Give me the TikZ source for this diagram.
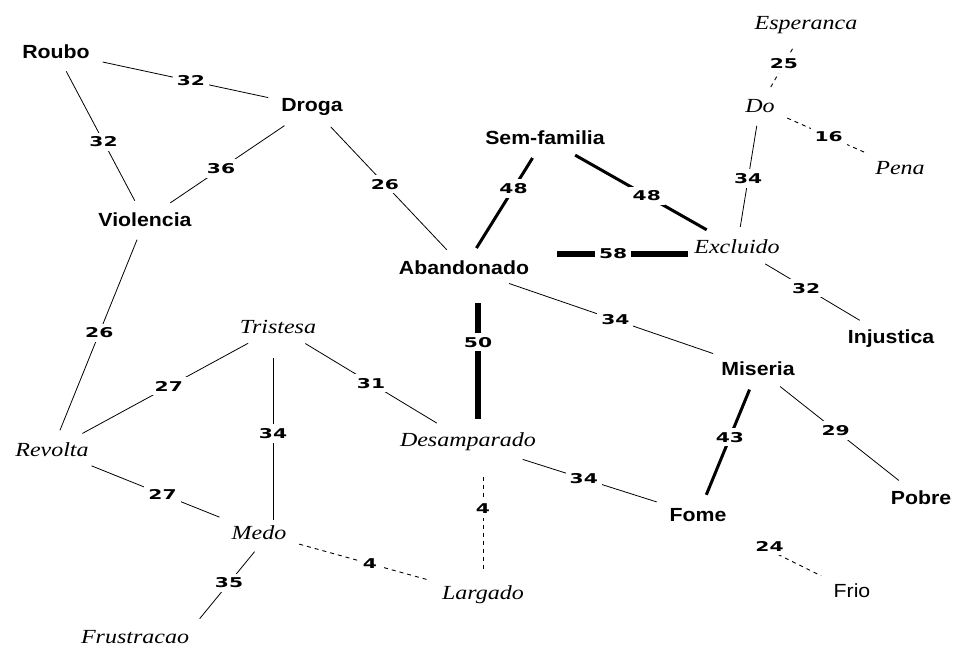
\documentclass[tikz,border=0pt]{standalone}
\usepackage{fontspec}
\setmainfont{Liberation Serif}
\newfontfamily\wordsans[FakeStretch=1.12]{Liberation Sans}
\newfontfamily\wordserif[FakeStretch=1.2]{Liberation Serif}
\newfontfamily\numsans[FakeStretch=1.5]{DejaVu Sans}

\begin{document}
\begin{tikzpicture}[
        x=1pt, y=-1pt,
        strong/.style={font=\wordsans\bfseries\fontsize{19}{22}\selectfont, inner sep=6pt},
        plain/.style={font=\wordsans\fontsize{19}{22}\selectfont, inner sep=6pt},
        weak/.style={font=\wordserif\itshape\fontsize{20}{22}\selectfont, inner sep=6pt},
        wt/.style={font=\numsans\bfseries\fontsize{13.5}{15}\selectfont, fill=white, inner sep=4pt},
        link/.style={line width=0.8pt, shorten <=7pt, shorten >=7pt},
        tie/.style={line width=3pt, shorten <=8pt, shorten >=8pt},
        bond/.style={line width=5.5pt},
        loose/.style={line width=0.9pt, dash pattern=on 4pt off 4pt, shorten <=7pt, shorten >=7pt}
    ]
        \useasboundingbox (0,0) rectangle (953,649);

        % Nodes
        \node (roubo) [strong] at (56,52) {Roubo};
        \node (droga) [strong] at (312,107) {Droga};
        \node (violencia) [strong] at (145,220) {Violencia};
        \node (semfamilia) [strong] at (545,138) {Sem-familia};
        \node (esperanca) [weak] at (806,25) {Esperanca};
        \node (do) [weak] at (760,106) {Do};
        \node (pena) [weak] at (900,168) {Pena};
        \node (excluido) [weak] at (737,247) {Excluido};
        \node (abandonado) [strong] at (464,268) {Abandonado};
        \node (injustica) [strong] at (891,339) {Injustica};
        \node (miseria) [strong] at (758,369) {Miseria};
        \node (tristesa) [weak] at (278,327) {Tristesa};
        \node (revolta) [weak] at (52,450) {Revolta};
        \node (desamparado) [weak] at (468,442) {Desamparado};
        \node (pobre) [strong] at (921,498) {Pobre};
        \node (fome) [strong] at (698,515) {Fome};
        \node (medo) [weak] at (259,533) {Medo};
        \node (largado) [weak] at (483,595) {Largado};
        \node (frio) [plain] at (852,591) {Frio};
        \node (frustracao) [weak] at (135,637) {Frustracao};

        \coordinate (abot) at ([xshift=14pt]abandonado.south);
        \coordinate (tbot) at ([xshift=-5pt]tristesa.south);

        % Paths
        \draw [link] (roubo) -- node[wt, pos=.53] {32} (droga);
        \draw [link] (roubo) -- node[wt, pos=.54] {32} (violencia);
        \draw [link] (droga) -- node[wt, pos=.55] {36} (violencia);
        \draw [link] (droga) -- node[wt, pos=.47] {26} (abandonado);
        \draw [tie] (semfamilia) -- node[wt, pos=.36] {48} (abandonado);
        \draw [tie] (semfamilia) -- node[wt, pos=.54] {48} (excluido);
        \draw [bond, shorten >=22pt] (excluido.base west) -- node[wt, pos=.49] {58} (excluido.base west -| abandonado.east);
        \draw [loose] (do) -- node[wt, pos=.55] {25} (esperanca);
        \draw [loose] (do) -- node[wt, pos=.53] {16} (pena);
        \draw [link] (do) -- node[wt, pos=.52] {34} (excluido);
        \draw [link] (excluido) -- node[wt, pos=.44] {32} (injustica);
        \draw [link] (abandonado) -- node[wt, pos=.52] {34} (miseria);
        \draw [bond, shorten <=22pt, shorten >=8pt] (abot) -- node[wt, pos=.42] {50} (abot |- desamparado.north);
        \draw [link] (violencia) -- node[wt, pos=.49] {26} (revolta);
        \draw [link] (tristesa) -- node[wt, pos=.48] {27} (revolta);
        \draw [link] (tristesa) -- node[wt, pos=.50] {31} (desamparado);
        \draw [link, shorten <=18pt, shorten >=0pt] (tbot) -- node[wt, pos=.52] {34} (tbot |- medo.north);
        \draw [link] (revolta) -- node[wt, pos=.55] {27} (medo);
        \draw [link] (medo.south) -- node[wt, pos=.47] {35} (frustracao.north east);
        \draw [loose] (medo) -- node[wt, pos=.54] {4} (largado);
        \draw [loose, shorten <=11pt, shorten >=17pt] (largado) -- node[wt, pos=.58] {4} (largado |- desamparado.south);
        \draw [link] (desamparado) -- node[wt, pos=.46] {34} (fome);
        \draw [tie] (miseria) -- node[wt, pos=.46] {43} (fome);
        \draw [link] (miseria) -- node[wt, pos=.47] {29} (pobre);
        \draw [loose, shorten <=44pt] (fome) -- node[wt, pos=.44, yshift=4pt] {24} (frio);
    \end{tikzpicture}
\end{document}
